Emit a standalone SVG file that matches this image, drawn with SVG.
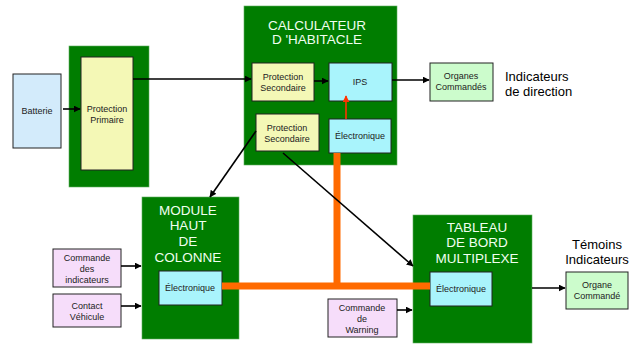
<svg xmlns="http://www.w3.org/2000/svg" width="639" height="345" viewBox="0 0 639 345">
  <defs>
    <marker id="arr" viewBox="0 0 10 10" refX="9" refY="5" markerWidth="7" markerHeight="7" markerUnits="userSpaceOnUse" orient="auto">
      <path d="M0,0 L10,5 L0,10 z" fill="#000"/>
    </marker>
    <marker id="arrRed" viewBox="0 0 10 10" refX="9" refY="5" markerWidth="7" markerHeight="7" markerUnits="userSpaceOnUse" orient="auto">
      <path d="M0,0 L10,5 L0,10 z" fill="#ff3300"/>
    </marker>
    <style>
      .ecu { fill: #007d00; stroke: #5fae5f; stroke-width: 0.6; }
      .box { stroke: #222; stroke-width: 1; }
      .yel { fill: #f4f8b6; }
      .cyan { fill: #a9f4fc; }
      .bat { fill: #d3ebfb; }
      .org { fill: #ccfccc; }
      .cmd { fill: #f6ddfa; }
      .t { font-family: "Liberation Sans", Arial, sans-serif; font-size: 9px; fill: #222; text-anchor: middle; }
      .title { font-family: "Liberation Sans", Arial, sans-serif; font-size: 13.5px; fill: #f0fff0; text-anchor: middle; }
      .lab { font-family: "Liberation Sans", Arial, sans-serif; font-size: 13px; fill: #000; }
      .wire { stroke: #000; stroke-width: 1.6; fill: none; }
      .bus { stroke: #ff6a00; stroke-width: 7; fill: none; }
    </style>
  </defs>

  <!-- Battery -->
  <g id="batterie">
    <rect class="box bat" x="13" y="74" width="48" height="74"/>
    <text class="t" x="37" y="114">Batterie</text>
  </g>

  <!-- Primary protection module -->
  <g id="protection-primaire">
    <rect class="ecu" x="69" y="46" width="80" height="141"/>
    <rect class="box yel" x="81" y="57" width="52" height="113"/>
    <text class="t" x="107" y="112">Protection</text>
    <text class="t" x="107" y="123">Primaire</text>
  </g>

  <!-- Body computer -->
  <g id="calculateur">
    <rect class="ecu" x="244" y="6" width="153" height="159"/>
    <text class="title" x="317" y="30">CALCULATEUR</text>
    <text class="title" x="317" y="44">D 'HABITACLE</text>
  </g>
  <g id="protection-secondaire-1">
    <rect class="box yel" x="252" y="63" width="62" height="38"/>
    <text class="t" x="283" y="80">Protection</text>
    <text class="t" x="283" y="91">Secondaire</text>
  </g>
  <g id="ips">
    <rect class="box cyan" x="329" y="63" width="63" height="38"/>
    <text class="t" x="360" y="85">IPS</text>
  </g>
  <g id="protection-secondaire-2">
    <rect class="box yel" x="256" y="114" width="63" height="37"/>
    <text class="t" x="287" y="131">Protection</text>
    <text class="t" x="287" y="142">Secondaire</text>
  </g>
  <g id="electronique-calculateur">
    <rect class="box cyan" x="329" y="119" width="62" height="34"/>
    <text class="t" x="360" y="139">Électronique</text>
  </g>

  <!-- Controlled outputs -->
  <g id="organes-commandes">
    <rect class="box org" x="430" y="63" width="63" height="38"/>
    <text class="t" x="461" y="79">Organes</text>
    <text class="t" x="461" y="90">Commandés</text>
  </g>
  <g id="label-indicateurs">
    <text class="lab" x="505" y="81">Indicateurs</text>
    <text class="lab" x="505" y="96">de direction</text>
  </g>

  <!-- Steering column module -->
  <g id="module-haut-colonne">
    <rect class="ecu" x="142" y="197" width="97" height="142"/>
    <text class="title" x="188" y="215">MODULE</text>
    <text class="title" x="188" y="230">HAUT</text>
    <text class="title" x="188" y="246">DE</text>
    <text class="title" x="188" y="262">COLONNE</text>
  </g>
  <g id="electronique-colonne">
    <rect class="box cyan" x="159" y="271" width="63" height="34"/>
    <text class="t" x="190" y="291">Électronique</text>
  </g>
  <g id="commande-indicateurs">
    <rect class="box cmd" x="53" y="249" width="68" height="38"/>
    <text class="t" x="87" y="261">Commande</text>
    <text class="t" x="87" y="272">des</text>
    <text class="t" x="87" y="283">indicateurs</text>
  </g>
  <g id="contact-vehicule">
    <rect class="box cmd" x="53" y="294" width="68" height="33"/>
    <text class="t" x="87" y="309">Contact</text>
    <text class="t" x="87" y="320">Véhicule</text>
  </g>

  <!-- Multiplexed dashboard -->
  <g id="tableau-de-bord">
    <rect class="ecu" x="413" y="215" width="119" height="128"/>
    <text class="title" x="477" y="232">TABLEAU</text>
    <text class="title" x="477" y="247">DE BORD</text>
    <text class="title" x="477" y="263">MULTIPLEXE</text>
  </g>
  <g id="electronique-tableau">
    <rect class="box cyan" x="430" y="272" width="62" height="34"/>
    <text class="t" x="461" y="292">Électronique</text>
  </g>
  <g id="commande-warning">
    <rect class="box cmd" x="328" y="299" width="69" height="38"/>
    <text class="t" x="362" y="311">Commande</text>
    <text class="t" x="362" y="322">de</text>
    <text class="t" x="362" y="333">Warning</text>
  </g>
  <g id="organe-commande">
    <rect class="box org" x="566" y="272" width="62" height="37"/>
    <text class="t" x="597" y="288">Organe</text>
    <text class="t" x="597" y="299">Commandé</text>
  </g>
  <g id="label-temoins">
    <text class="lab" x="597" y="249" text-anchor="middle">Témoins</text>
    <text class="lab" x="597" y="264" text-anchor="middle">Indicateurs</text>
  </g>

  <!-- Connectors -->
  <g id="connectors">
    <path class="bus" d="M337,153 V286"/>
    <path class="bus" d="M222,286 H430"/>
    <path d="M346,119 V96" stroke="#ff3300" stroke-width="1.6" fill="none" marker-end="url(#arrRed)"/>
    <path class="wire" d="M63,109 H80" marker-end="url(#arr)"/>
    <path class="wire" d="M133,79 H251" marker-end="url(#arr)"/>
    <path class="wire" d="M314,81 H328" marker-end="url(#arr)"/>
    <path class="wire" d="M392,80 H429" marker-end="url(#arr)"/>
    <path class="wire" d="M256,131 L210,197" marker-end="url(#arr)"/>
    <path class="wire" d="M283,153 L413,266" marker-end="url(#arr)"/>
    <path class="wire" d="M121,266 H141" marker-end="url(#arr)"/>
    <path class="wire" d="M121,306 H141" marker-end="url(#arr)"/>
    <path class="wire" d="M397,310 H412" marker-end="url(#arr)"/>
    <path class="wire" d="M532,288 H565" marker-end="url(#arr)"/>
  </g>
</svg>
